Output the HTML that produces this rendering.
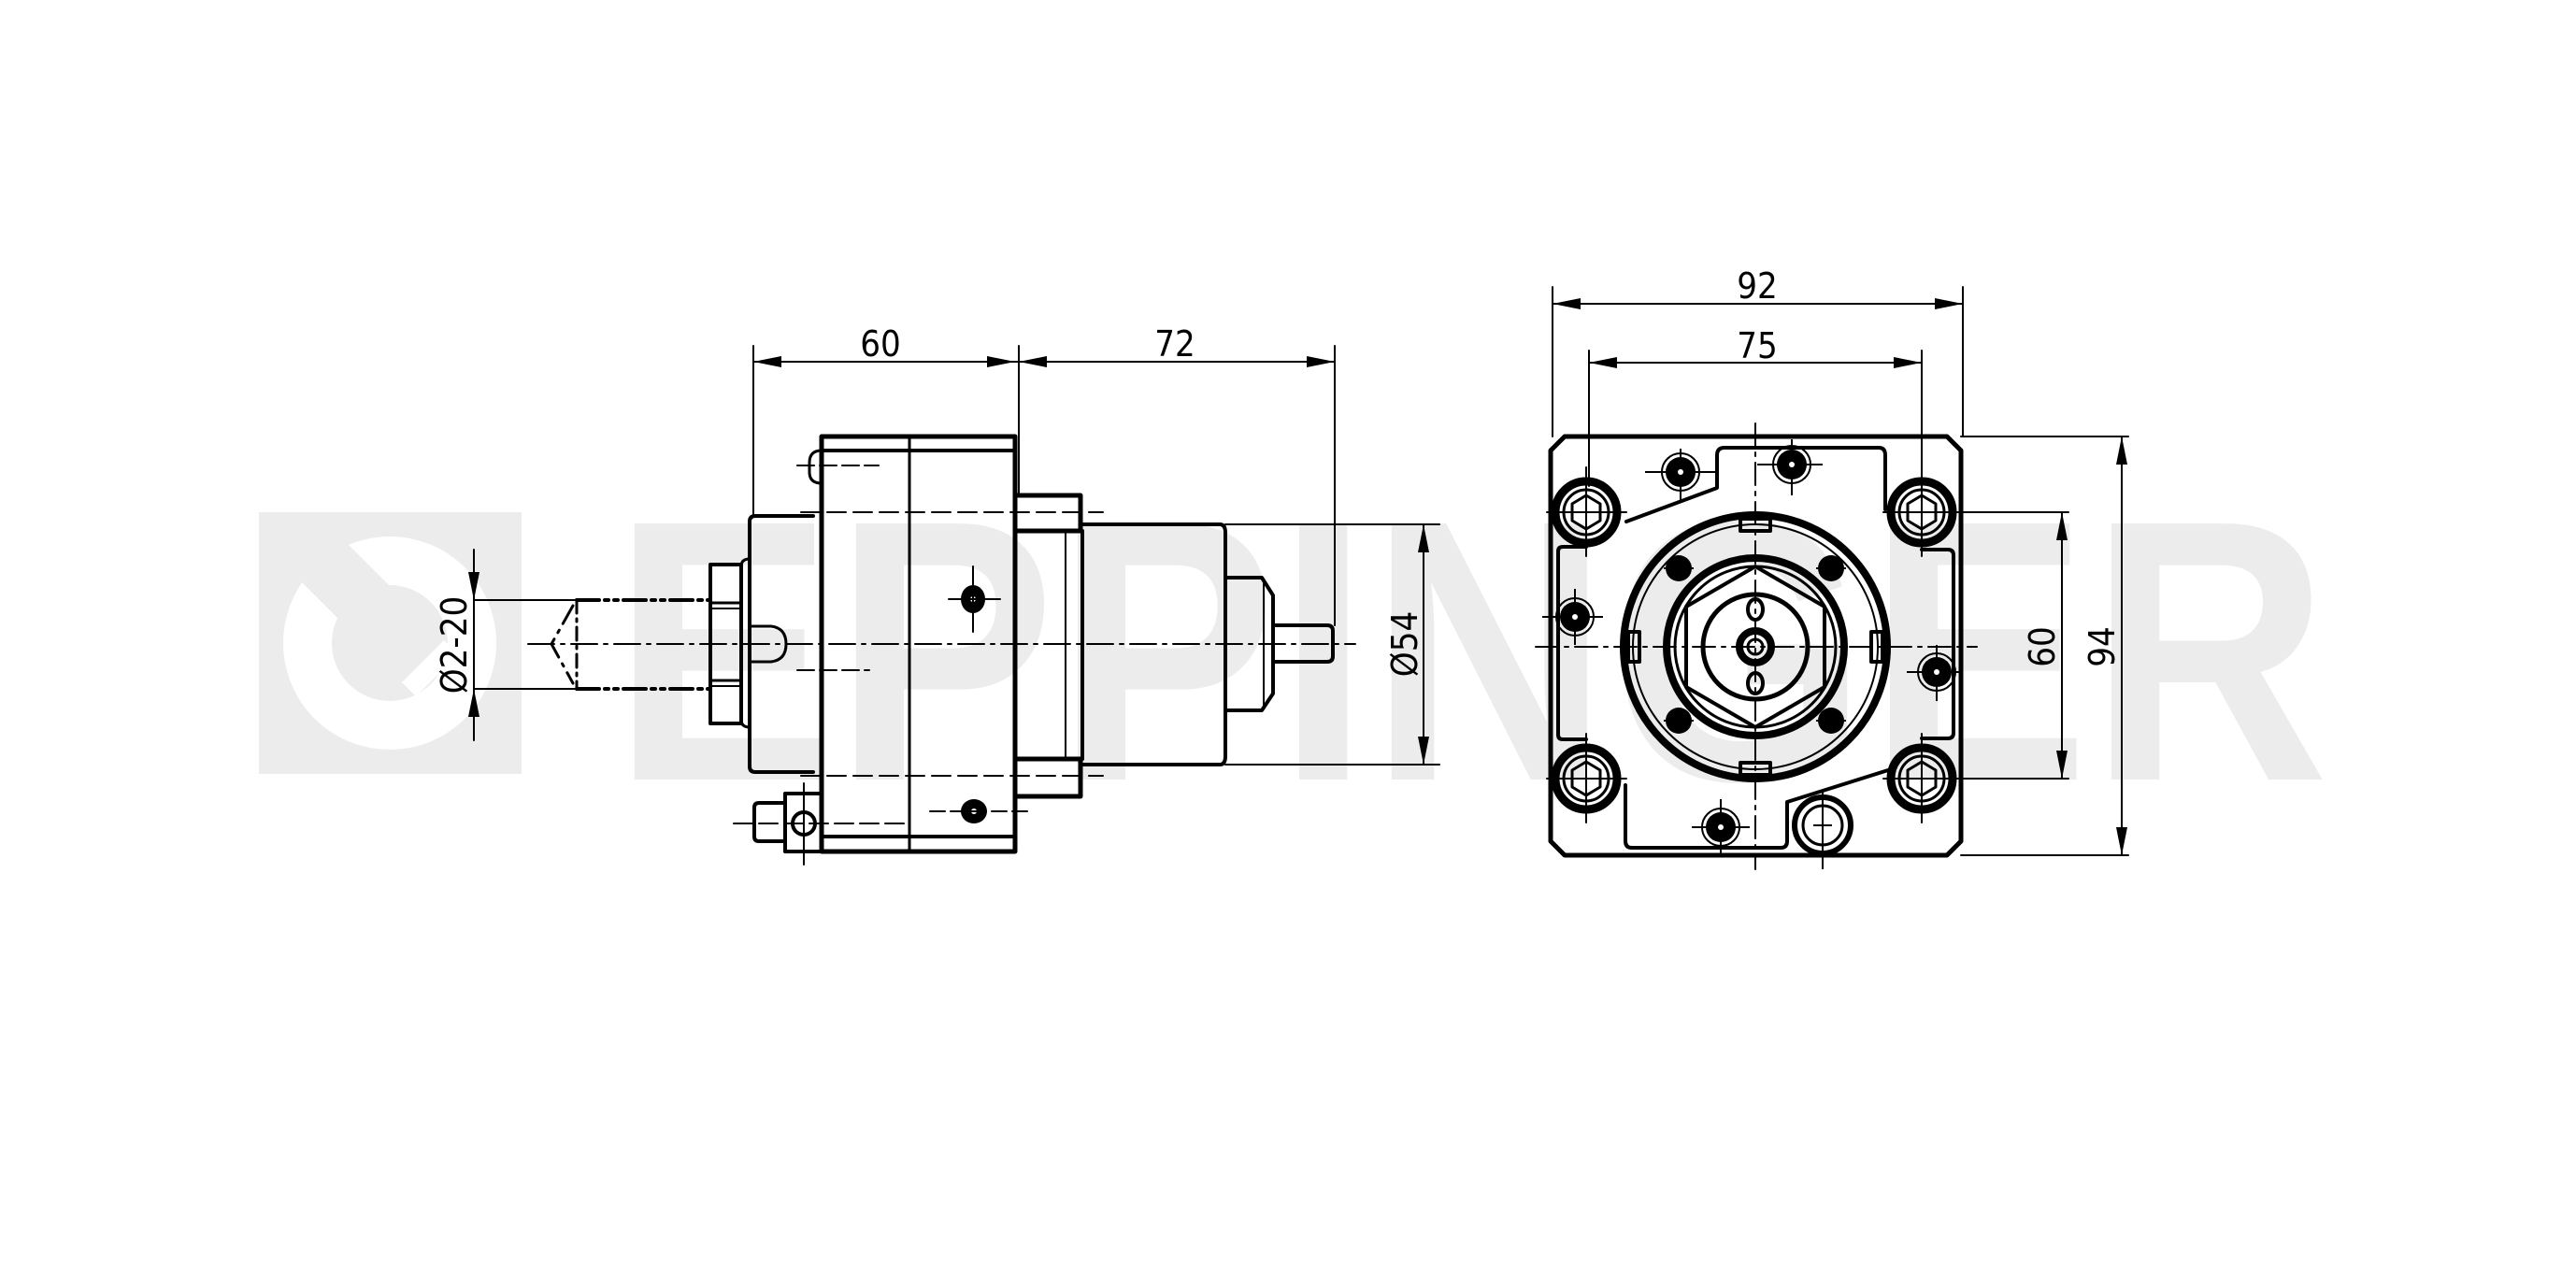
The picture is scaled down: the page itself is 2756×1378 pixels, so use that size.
<!DOCTYPE html>
<html><head><meta charset="utf-8"><style>
html,body{margin:0;padding:0;background:#fff;}
svg{display:block;}
text{font-family:"DejaVu Sans Condensed","Liberation Sans",sans-serif;}
</style></head><body>
<svg width="2756" height="1378" viewBox="0 0 2756 1378" xmlns="http://www.w3.org/2000/svg">
<!-- watermark -->
<rect x="277" y="548" width="281" height="280" fill="#ececec"/>
<circle cx="417" cy="688" r="114" fill="#fff"/>
<circle cx="417" cy="688" r="62" fill="#ececec"/>
<polygon points="320,620 365,575 475,685 430,730" fill="#ececec"/>
<polygon points="430,730 475,685 490,700 445,745" fill="#fff"/>
<text x="655" y="834" font-size="398" font-weight="bold" fill="#ececec" textLength="1837" lengthAdjust="spacingAndGlyphs" style="font-family:'Liberation Sans',sans-serif">EPPINGER</text>

<g fill="none" stroke="#000" stroke-linejoin="round" stroke-linecap="round">
<!-- ===== LEFT VIEW ===== -->
<line x1="565" y1="689" x2="1450" y2="689" stroke-width="2" stroke-dasharray="28 7 4 7"/>
<rect x="879" y="467" width="207" height="444" stroke-width="5"/>
<line x1="879" y1="482" x2="1086" y2="482" stroke-width="4"/>
<line x1="879" y1="895" x2="1086" y2="895" stroke-width="4"/>
<line x1="973" y1="467" x2="973" y2="911" stroke-width="3"/>
<path d="M879 482 Q866 482 866 495 L866 505 Q866 517 879 517" stroke-width="3"/>
<line x1="853" y1="498" x2="940" y2="498" stroke-width="2" stroke-dasharray="18 6"/>
<line x1="853" y1="717" x2="930" y2="717" stroke-width="2" stroke-dasharray="18 6"/>
<line x1="857" y1="548" x2="1180" y2="548" stroke-width="2" stroke-dasharray="20 8"/>
<line x1="857" y1="830" x2="1180" y2="830" stroke-width="2" stroke-dasharray="20 8"/>
<path d="M870 552 L808 552 Q802 552 802 558 L802 820 Q802 826 808 826 L870 826" stroke-width="4"/>
<path d="M802 598 Q793 598 793 606 L793 770 Q793 778 802 778" stroke-width="3"/>
<rect x="760" y="604" width="33" height="170" stroke-width="4"/>
<line x1="760" y1="645" x2="793" y2="645" stroke-width="3"/>
<line x1="760" y1="651" x2="793" y2="651" stroke-width="2"/>
<line x1="760" y1="728" x2="793" y2="728" stroke-width="3"/>
<line x1="760" y1="734" x2="793" y2="734" stroke-width="2"/>
<path d="M802 670 L825 670 Q841 672 841 689 Q841 706 825 708 L802 708" stroke-width="3"/>
<line x1="617" y1="642" x2="760" y2="642" stroke-width="4" stroke-dasharray="24 6 4 6 4 6"/>
<line x1="617" y1="737" x2="760" y2="737" stroke-width="4" stroke-dasharray="24 6 4 6 4 6"/>
<line x1="617" y1="642" x2="617" y2="737" stroke-width="3" stroke-dasharray="14 6 3 6"/>
<path d="M613 648 L590 689 L613 731" stroke-width="3" stroke-dasharray="22 8 3 8"/>
<rect x="840" y="849" width="39" height="62" stroke-width="4"/>
<path d="M840 859 L812 859 Q807 859 807 864 L807 895 Q807 900 812 900 L840 900" stroke-width="4"/>
<circle cx="860" cy="881" r="12" stroke-width="4"/>
<line x1="860" y1="838" x2="860" y2="925" stroke-width="2"/>
<line x1="785" y1="881" x2="970" y2="881" stroke-width="2" stroke-dasharray="20 7"/>
<ellipse cx="1041" cy="641" rx="13" ry="15" fill="#000" stroke="none"/>
<circle cx="1041" cy="641" r="3" fill="#fff" stroke="none"/>
<line x1="1041" y1="606" x2="1041" y2="676" stroke-width="2"/>
<line x1="1015" y1="641" x2="1070" y2="641" stroke-width="2"/>
<ellipse cx="1042" cy="868" rx="14" ry="13" fill="#000" stroke="none"/>
<circle cx="1042" cy="868" r="3" fill="#fff" stroke="none"/>
<line x1="995" y1="868" x2="1100" y2="868" stroke-width="2" stroke-dasharray="16 6"/>
<rect x="1086" y="530" width="70" height="38" stroke-width="5"/>
<rect x="1086" y="812" width="70" height="40" stroke-width="5"/>
<rect x="1086" y="568" width="72" height="244" stroke-width="4"/>
<line x1="1140" y1="568" x2="1140" y2="812" stroke-width="2"/>
<path d="M1158 561 L1305 561 Q1311 561 1311 570 L1311 809 Q1311 818 1305 818 L1158 818" stroke-width="4"/>
<path d="M1311 618 L1350 618 L1362 637 L1362 742 L1350 760 L1311 760" stroke-width="4"/>
<line x1="1352" y1="620" x2="1352" y2="758" stroke-width="2"/>
<path d="M1362 669 L1420 669 Q1426 669 1426 675 L1426 702 Q1426 708 1420 708 L1362 708" stroke-width="4"/>
<g stroke-width="2">
<line x1="806" y1="370" x2="806" y2="552"/>
<line x1="1090" y1="370" x2="1090" y2="530"/>
<line x1="1428" y1="370" x2="1428" y2="669"/>
<line x1="806" y1="387" x2="1428" y2="387"/>
<line x1="1311" y1="561" x2="1540" y2="561"/>
<line x1="1311" y1="818" x2="1540" y2="818"/>
<line x1="1523" y1="561" x2="1523" y2="818"/>
<line x1="507" y1="588" x2="507" y2="792"/>
<line x1="507" y1="642" x2="617" y2="642"/>
<line x1="507" y1="737" x2="617" y2="737"/>
</g>
<!-- ===== RIGHT VIEW ===== -->
<path d="M1674 467 L2083 467 L2098 482 L2098 900 L2083 915 L1674 915 L1659 900 L1659 482 Z" stroke-width="5"/>
<path d="M1740 558 L1837 522 L1837 487 Q1837 479 1845 479 L2010 479 Q2017 479 2017 487 L2017 545" stroke-width="4"/>
<path d="M1697 585 L1672 585 Q1667 585 1667 590 L1667 786 Q1667 791 1672 791 L1697 791" stroke-width="4"/>
<path d="M2056 588 L2084 588 Q2090 588 2090 594 L2090 784 Q2090 790 2084 790 L2056 790" stroke-width="4"/>
<path d="M1739 840 L1739 900 Q1739 907 1746 907 L1905 907 Q1912 907 1912 900 L1912 858 L2020 824" stroke-width="4"/>
<g stroke-width="9">
<circle cx="1697" cy="548" r="33"/><circle cx="2056" cy="548" r="33"/>
<circle cx="1697" cy="833" r="33"/><circle cx="2056" cy="833" r="33"/>
</g>
<g stroke-width="3">
<circle cx="1697" cy="548" r="24"/><circle cx="2056" cy="548" r="24"/>
<circle cx="1697" cy="833" r="24"/><circle cx="2056" cy="833" r="24"/>
<polygon points="1697,530 1712,539 1712,557 1697,566 1682,557 1682,539"/>
<polygon points="2056,530 2071,539 2071,557 2056,566 2041,557 2041,539"/>
<polygon points="1697,815 1712,824 1712,842 1697,851 1682,842 1682,824"/>
<polygon points="2056,815 2071,824 2071,842 2056,851 2041,842 2041,824"/>
</g>
<g stroke-width="2">
<line x1="1697" y1="500" x2="1697" y2="595"/><line x1="1655" y1="548" x2="1740" y2="548"/>
<line x1="2056" y1="500" x2="2056" y2="595"/><line x1="2015" y1="548" x2="2100" y2="548"/>
<line x1="1697" y1="785" x2="1697" y2="880"/><line x1="1655" y1="833" x2="1740" y2="833"/>
<line x1="2056" y1="785" x2="2056" y2="880"/><line x1="2015" y1="833" x2="2100" y2="833"/>
</g>
<circle cx="1878" cy="692" r="141" stroke-width="8"/>
<circle cx="1878" cy="692" r="131" stroke-width="2"/>
<circle cx="1878" cy="692" r="95" stroke-width="8"/>
<circle cx="1878" cy="692" r="86" stroke-width="3"/>
<polygon points="1878,606 1952,649 1952,735 1878,778 1804,735 1804,649" stroke-width="4"/>
<circle cx="1878" cy="692" r="56" stroke-width="5"/>
<circle cx="1878" cy="692" r="17" stroke-width="8"/>
<circle cx="1878" cy="692" r="8" stroke-width="3"/>
<ellipse cx="1878" cy="652" rx="8" ry="11" stroke-width="4"/>
<ellipse cx="1878" cy="731" rx="8" ry="11" stroke-width="4"/>
<rect x="1862" y="555" width="32" height="13" stroke-width="4"/>
<rect x="1862" y="816" width="32" height="13" stroke-width="4"/>
<rect x="1742" y="676" width="12" height="32" stroke-width="4"/>
<rect x="2002" y="676" width="12" height="32" stroke-width="4"/>
<line x1="1643" y1="692" x2="2115" y2="692" stroke-width="2" stroke-dasharray="24 7 4 7"/>
<line x1="1878" y1="453" x2="1878" y2="930" stroke-width="2" stroke-dasharray="24 7 4 7"/>
<g stroke-width="2">
<line x1="1661" y1="307" x2="1661" y2="467"/>
<line x1="2100" y1="307" x2="2100" y2="467"/>
<line x1="1661" y1="325" x2="2100" y2="325"/>
<line x1="1700" y1="375" x2="1700" y2="520"/>
<line x1="2056" y1="375" x2="2056" y2="520"/>
<line x1="1700" y1="388" x2="2056" y2="388"/>
<line x1="2098" y1="548" x2="2213" y2="548"/>
<line x1="2098" y1="833" x2="2213" y2="833"/>
<line x1="2206" y1="548" x2="2206" y2="833"/>
<line x1="2098" y1="467" x2="2277" y2="467"/>
<line x1="2098" y1="915" x2="2277" y2="915"/>
<line x1="2270" y1="467" x2="2270" y2="915"/>
</g>
</g>
<g fill="#000">
<circle cx="1798" cy="505" r="16"/><circle cx="1917" cy="497" r="16"/>
<circle cx="1685" cy="660" r="16"/><circle cx="2072" cy="719" r="16"/>
<circle cx="1841" cy="885" r="16"/>
<circle cx="1796" cy="608" r="14"/><circle cx="1959" cy="608" r="14"/>
<circle cx="1796" cy="771" r="14"/><circle cx="1959" cy="771" r="14"/>
</g>
<g fill="none" stroke="#000" stroke-width="2">
<circle cx="1798" cy="505" r="20"/><circle cx="1917" cy="497" r="20"/>
<circle cx="1685" cy="660" r="20"/><circle cx="2072" cy="719" r="20"/>
<circle cx="1841" cy="885" r="20"/>
<line x1="1760" y1="505" x2="1835" y2="505"/><line x1="1798" y1="480" x2="1798" y2="535"/>
<line x1="1880" y1="497" x2="1950" y2="497"/><line x1="1917" y1="470" x2="1917" y2="530"/>
<line x1="1650" y1="660" x2="1715" y2="660"/><line x1="1685" y1="630" x2="1685" y2="690"/>
<line x1="2040" y1="719" x2="2100" y2="719"/><line x1="2072" y1="690" x2="2072" y2="750"/>
<line x1="1810" y1="885" x2="1872" y2="885"/><line x1="1841" y1="855" x2="1841" y2="915"/>
<line x1="1780" y1="608" x2="1812" y2="608"/><line x1="1943" y1="608" x2="1975" y2="608"/>
<line x1="1780" y1="771" x2="1812" y2="771"/><line x1="1943" y1="771" x2="1975" y2="771"/>
</g>
<g fill="#fff"><circle cx="1798" cy="505" r="3"/><circle cx="1917" cy="497" r="3"/><circle cx="1685" cy="660" r="3"/><circle cx="2072" cy="719" r="3"/><circle cx="1841" cy="885" r="3"/></g>
<circle cx="1950" cy="883" r="30" fill="none" stroke="#000" stroke-width="6"/>
<circle cx="1950" cy="883" r="21" fill="none" stroke="#000" stroke-width="3"/>
<line x1="1940" y1="883" x2="1960" y2="883" stroke="#000" stroke-width="2"/>
<line x1="1950" y1="845" x2="1950" y2="930" stroke="#000" stroke-width="2"/>

<g fill="#000">
<polygon points="806,387 836,381 836,393"/><polygon points="1086,387 1056,381 1056,393"/>
<polygon points="1090,387 1120,381 1120,393"/><polygon points="1428,387 1398,381 1398,393"/>
<polygon points="1661,325 1691,319 1691,331"/><polygon points="2100,325 2070,319 2070,331"/>
<polygon points="1700,388 1730,382 1730,394"/><polygon points="2056,388 2026,382 2026,394"/>
<polygon points="1523,561 1517,591 1529,591"/><polygon points="1523,818 1517,788 1529,788"/>
<polygon points="2206,548 2200,578 2212,578"/><polygon points="2206,833 2200,803 2212,803"/>
<polygon points="2270,467 2264,497 2276,497"/><polygon points="2270,915 2264,885 2276,885"/>
<polygon points="507,642 501,612 513,612"/><polygon points="507,737 501,767 513,767"/>
</g>
<g font-size="38" fill="#000" text-anchor="middle">
<text x="942" y="381">60</text>
<text x="1257" y="381">72</text>
<text x="1880" y="319">92</text>
<text x="1880" y="383">75</text>
<text transform="translate(1516,689) rotate(-90)">Ø54</text>
<text transform="translate(2198,692) rotate(-90)">60</text>
<text transform="translate(2262,692) rotate(-90)">94</text>
<text transform="translate(499,690) rotate(-90)">Ø2-20</text>
</g>
</svg>
</body></html>
